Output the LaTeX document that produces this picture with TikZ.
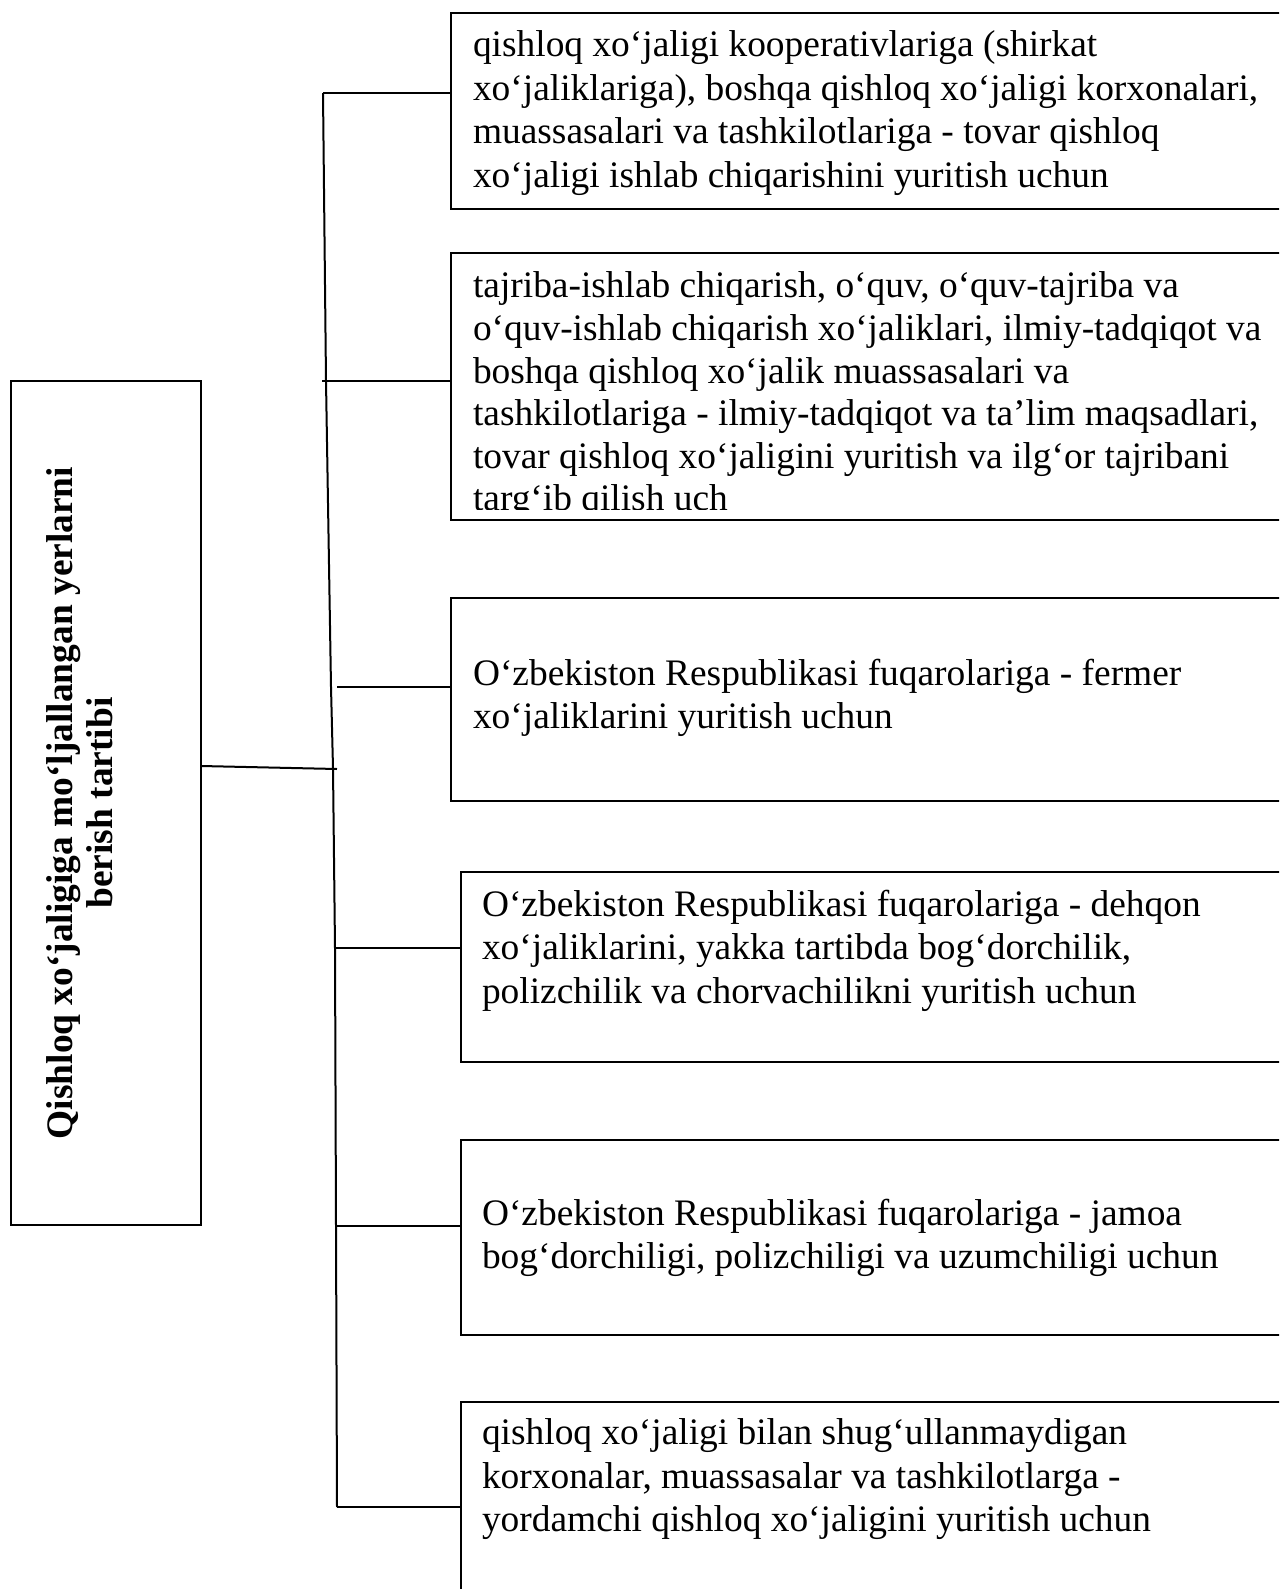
\documentclass[tikz,border=0pt]{standalone}
\usepackage{fontspec}
\setmainfont{Liberation Serif}
\begin{document}
\begin{tikzpicture}[x=1pt,y=-1pt,
  line width=2pt,
  box/.style={draw=black, line width=2pt, inner sep=0pt, outer sep=0pt, anchor=north west},
  txt/.style={anchor=north west, inner sep=0pt, align=left, font=\fontsize{37.4}{43.5}\selectfont},
  wire/.style={draw=black, line width=2pt}]
\useasboundingbox (0,0) rectangle (1279,1589);
\clip (0,0) rectangle (1279,1589);
\fill[white] (0,0) rectangle (1279,1589);

% left title box
\node[box, minimum width=190pt, minimum height=844pt] (lb) at (11,381) {};
\node[rotate=90, align=center, inner sep=0pt,
      font=\fontsize{37.4}{40}\selectfont\bfseries] (title) at (80,803)
  {Qishloq xo‘jaligiga mo‘ljallangan yerlarni\\berish tartibi};

% right boxes (they run past the right border)
\node[box, minimum width=839pt, minimum height=196pt] (b1) at (451,13) {};
\node[box, minimum width=839pt, minimum height=267pt] (b2) at (451,253) {};
\node[box, minimum width=839pt, minimum height=203pt] (b3) at (451,598) {};
\node[box, minimum width=829pt, minimum height=190pt] (b4) at (461,872) {};
\node[box, minimum width=829pt, minimum height=195pt] (b5) at (461,1140) {};
\node[box, minimum width=829pt, minimum height=198pt] (b6) at (461,1402) {};

% box texts
\node[txt] (t1txt) at (472,30) {qishloq xo‘jaligi kooperativlariga (shirkat\\
xo‘jaliklariga), boshqa qishloq xo‘jaligi korxonalari,\\
muassasalari va tashkilotlariga - tovar qishloq\\
xo‘jaligi ishlab chiqarishini yuritish uchun};

\begin{scope}
  \clip (451,253) rectangle (1290,509);
  \node[txt, font=\fontsize{37.4}{42.6}\selectfont] (t2txt) at (472,271)
  {tajriba-ishlab chiqarish, o‘quv, o‘quv-tajriba va\\
o‘quv-ishlab chiqarish xo‘jaliklari, ilmiy-tadqiqot va\\
boshqa qishloq xo‘jalik muassasalari va\\
tashkilotlariga - ilmiy-tadqiqot va ta’lim maqsadlari,\\
tovar qishloq xo‘jaligini yuritish va ilg‘or tajribani\\
targ‘ib qilish uch};
\end{scope}

\node[txt] (t3txt) at (472,658) {O‘zbekiston Respublikasi fuqarolariga - fermer\\
xo‘jaliklarini yuritish uchun};

\node[txt] (t4txt) at (481,889) {O‘zbekiston Respublikasi fuqarolariga - dehqon\\
xo‘jaliklarini, yakka tartibda bog‘dorchilik,\\
polizchilik va chorvachilikni yuritish uchun};

\node[txt] (t5txt) at (481,1198) {O‘zbekiston Respublikasi fuqarolariga - jamoa\\
bog‘dorchiligi, polizchiligi va uzumchiligi uchun};

\node[txt] (t6txt) at (481,1418) {qishloq xo‘jaligi bilan shug‘ullanmaydigan\\
korxonalar, muassasalar va tashkilotlarga -\\
yordamchi qishloq xo‘jaligini yuritish uchun};

% trunk and branch points
\coordinate (c1) at (323,93);
\coordinate (k2) at (326,381);
\coordinate (k3) at (331,687);
\coordinate (k0) at (333,768);
\coordinate (k4) at (335,948);
\coordinate (k5) at (336,1226);
\coordinate (c6) at (337,1507);
\coordinate (c2) at (322,381);
\coordinate (c3) at (337,687);
\coordinate (c0) at (337,769);
\coordinate (m0) at (201,766);
\coordinate (c4) at (336,948);
\coordinate (c5) at (336,1226);

\draw[wire] (c1) -- (k2) -- (k3) -- (k0) -- (k4) -- (k5) -- (c6);

% branches
\draw[wire] (c1) -- (c1 -| b1.west);
\draw[wire] (c2) -- (c2 -| b2.west);
\draw[wire] (c3) -- (c3 -| b3.west);
\draw[wire] (m0) -- (c0);
\draw[wire] (c4) -- (c4 -| b4.west);
\draw[wire] (c5) -- (c5 -| b5.west);
\draw[wire] (c6) -- (c6 -| b6.west);
\end{tikzpicture}
\end{document}
